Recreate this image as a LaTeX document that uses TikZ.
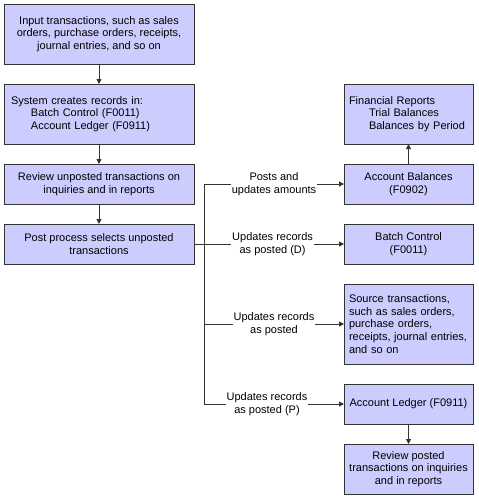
\documentclass[tikz,border=0pt]{standalone}
\usepackage{fontspec}
\setmainfont{Liberation Sans}
\usetikzlibrary{arrows.meta,positioning}
\definecolor{boxfill}{HTML}{CCCCFF}
\definecolor{linegray}{HTML}{333333}
\hyphenpenalty=10000

\begin{document}
\begin{tikzpicture}[
    x=1pt, y=1pt,
    node distance=20pt,
    font=\fontsize{11pt}{12.7pt}\selectfont,
    block/.style={rectangle, draw=linegray, line width=1pt, fill=boxfill, minimum width=190pt, inner xsep=7pt, inner ysep=2pt, outer sep=0pt, align=center},
    rblock/.style={block, minimum width=129pt, inner xsep=5pt},
    lbl/.style={fill=white, inner xsep=1pt, inner ysep=0pt, align=center},
    arrow/.style={-{Triangle[length=5pt,width=5pt]}, draw=linegray, line width=1pt},
    bus/.style={draw=linegray, line width=1pt}
]
\useasboundingbox (0,0) rectangle (479,-501);

\node[block, minimum height=60pt] (input) at (99,-34) {Input transactions, such as sales\\orders, purchase orders, receipts,\\journal entries, and so on};
\node[block, minimum height=60pt, below=of input, text width=176pt, align=left] (sysrec) {System creates records in:\\\hspace*{20pt}Batch Control (F0011)\\\hspace*{20pt}Account Ledger (F0911)};
\node[block, minimum height=40pt, below=of sysrec] (review) {Review unposted transactions on\\inquiries and in reports};
\node[block, minimum height=40pt, below=of review] (post) {Post process selects unposted\\transactions};

\node[rblock, minimum height=60pt, right=150pt of sysrec, text width=119pt, inner xsep=5pt, align=left] (finrep) {Financial Reports\\\hspace*{20pt}Trial Balances\\\hspace*{20pt}Balances by Period};
\node[rblock, minimum height=40pt, below=of finrep] (acctbal) {Account Balances\\(F0902)};
\node[rblock, minimum height=40pt, below=of acctbal] (batch) {Batch Control\\(F0011)};
\node[rblock, minimum height=80pt, below=of batch, text width=119pt, inner xsep=5pt, align=left] (source) {Source transactions,\\such as sales orders,\\purchase orders,\\receipts, journal entries,\\and so on};
\node[rblock, minimum height=40pt, below=of source] (ledger) {Account Ledger (F0911)};
\node[rblock, minimum height=50pt, below=of ledger] (reviewposted) {Review posted\\transactions on inquiries\\and in reports};

\coordinate (fork) at ([xshift=10pt]post.east);

\draw[arrow] (input) -- (sysrec);
\draw[arrow] (sysrec) -- (review);
\draw[arrow] (review) -- (post);
\draw[arrow] (acctbal) -- (finrep);
\draw[arrow] (ledger) -- (reviewposted);

\draw[bus] (post.east) -- (fork);
\draw[bus] (fork |- acctbal) -- (fork |- ledger);
\draw[arrow] (fork |- acctbal) -- node[lbl, pos=0.5] {Posts and\\updates amounts} (acctbal);
\draw[arrow] (fork) -- node[lbl, pos=0.49] {Updates records\\as posted (D)} (batch);
\draw[arrow] (fork |- source) -- node[lbl, pos=0.5] {Updates records\\as posted} (source);
\draw[arrow] (fork |- ledger) -- node[lbl, pos=0.45] {Updates records\\as posted (P)} (ledger);
\end{tikzpicture}
\end{document}
